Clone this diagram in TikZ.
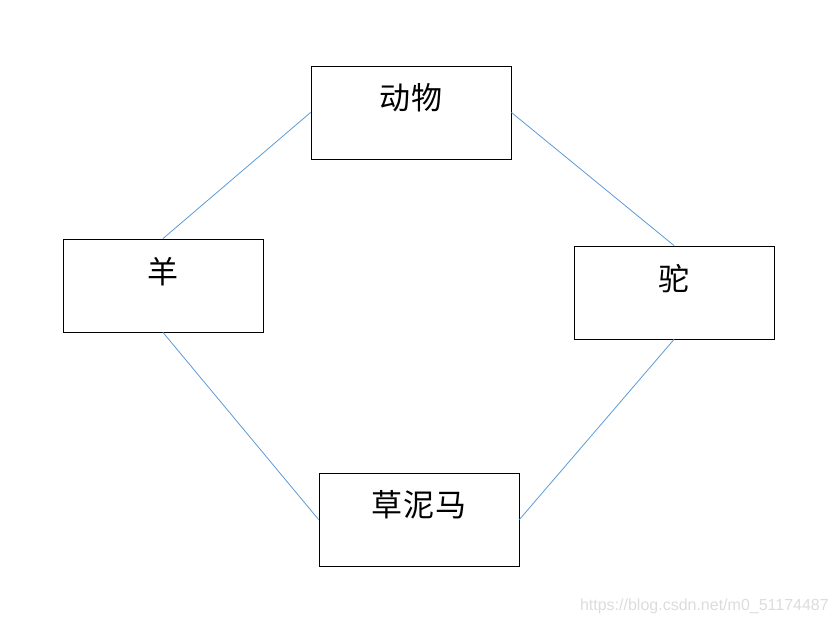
\documentclass[tikz,border=0pt]{standalone}
\usepackage{fontspec}
\newfontfamily\cjk{Noto Sans CJK SC}
\newfontfamily\wm{Liberation Sans}
\definecolor{linkblue}{HTML}{5B9BD5}
\definecolor{wmgray}{HTML}{DCDCDC}
\begin{document}
\begin{tikzpicture}[x=1pt,y=-1pt,
  box/.style={draw=black,line width=0.9pt,minimum width=200pt,minimum height=93pt,inner sep=0pt},
  txt/.style={font=\cjk\fontsize{31}{34}\selectfont\addfontfeature{LetterSpace=2},inner sep=0pt},
  link/.style={draw=linkblue,line width=0.8pt}]
\useasboundingbox (0,0) rectangle (837,626);
\node[box] (dw) at (411,112.5) {};
\node[box] (y) at (163,285.5) {};
\node[box] (t) at (674,292.5) {};
\node[box] (c) at (419,519.5) {};
\node[txt] (dwt) at (411,98) {动物};
\node[txt] (yt) at (163,272) {羊};
\node[txt] (tt) at (674,279) {驼};
\node[txt] (ct) at (419,505) {草泥马};
\draw[link] (dw.west) -- (y.north);
\draw[link] (dw.east) -- (t.north);
\draw[link] (y.south) -- (c.west);
\draw[link] (t.south) -- (c.east);
\node[font=\wm\fontsize{16}{18}\selectfont,text=wmgray,anchor=east,inner sep=0pt] (wmk) at (829,606) {https://blog.csdn.net/m0\_51174487};
\end{tikzpicture}
\end{document}
